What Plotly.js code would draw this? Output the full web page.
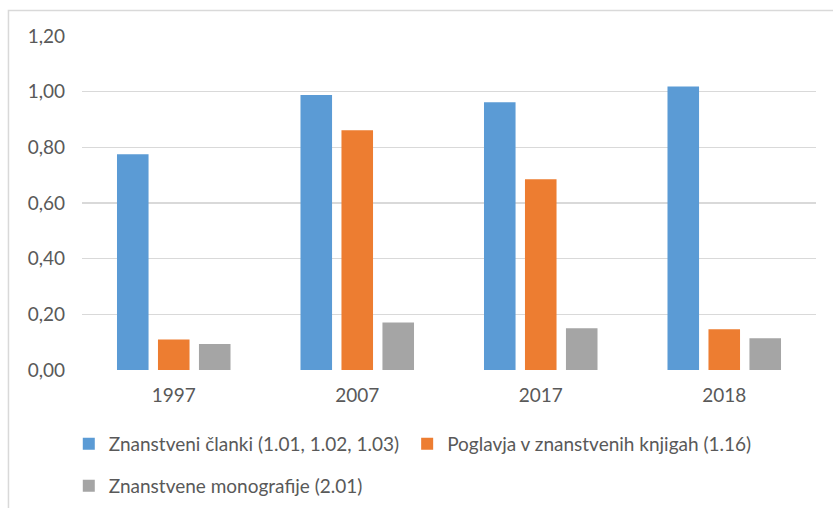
<!DOCTYPE html>
<html>
<head>
<meta charset="utf-8">
<script src="https://cdn.plot.ly/plotly-3.0.1.min.js"></script>
<style>html,body{margin:0;padding:0;background:#fff;}#chart{width:833px;height:508px;}</style>
</head>
<body>
<div id="chart"></div>
<script>
const categories = ['1997', '2007', '2017', '2018'];
const seriesNames = [
  'Znanstveni članki (1.01, 1.02, 1.03)',
  'Poglavja v znanstvenih knjigah (1.16)',
  'Znanstvene monografije (2.01)'
];
const clanki = [0.775, 0.988, 0.962, 1.019];
const poglavja = [0.110, 0.861, 0.685, 0.146];
const monografije = [0.093, 0.171, 0.150, 0.114];
const yTicks = [0, 0.2, 0.4, 0.6, 0.8, 1.0, 1.2];

const colors = ['#5B9BD5', '#ED7D31', '#A5A5A5'];
const FONT = 'Lato, "Open Sans", sans-serif';
const TXT = '#595959';
const FS = 19;
const legendIds = ['legend', 'legend2', 'legend3'];

const traces = [clanki, poglavja, monografije].map((vals, i) => ({
  type: 'bar',
  name: seriesNames[i],
  x: categories,
  y: vals,
  marker: {color: colors[i], line: {width: 0}},
  legend: legendIds[i],
  hoverinfo: 'x+y'
}));

function leg(x, y) {
  return {
    orientation: 'h', x: x, xanchor: 'left', y: y, yanchor: 'middle',
    font: {family: FONT, size: FS, color: TXT}, bgcolor: 'rgba(0,0,0,0)'
  };
}

const layout = {
  width: 833, height: 508,
  margin: {l: 82, r: 17, t: 36, b: 138, autoexpand: false},
  paper_bgcolor: '#fff', plot_bgcolor: '#fff',
  font: {family: FONT, size: FS, color: TXT},
  separators: ', ',
  barmode: 'group',
  bargap: 0.33,
  bargroupgap: 0.23,
  xaxis: {
    type: 'category', automargin: false,
    showgrid: false, showline: false, zeroline: false,
    ticks: '', ticklabelstandoff: 12,
    tickfont: {family: FONT, size: FS, color: TXT}
  },
  yaxis: {
    range: [0, 1.2], tickvals: yTicks, tickformat: '.2f', automargin: false,
    showgrid: true, gridcolor: '#d9d9d9', gridwidth: 1.5,
    zeroline: false, showline: false, ticks: '',
    ticklabelstandoff: 16,
    tickfont: {family: FONT, size: FS, color: TXT}
  },
  showlegend: true,
  legend: leg(-0.018, -0.2216),
  legend2: leg(0.443, -0.2216),
  legend3: leg(-0.018, -0.347),
  shapes: [{
    type: 'rect', xref: 'paper', yref: 'paper',
    x0: -0.1002, x1: 1.2, y0: -0.6, y1: 1.0763,
    line: {color: '#d9d9d9', width: 1.5}, layer: 'below'
  }]
};

Plotly.newPlot('chart', traces, layout, {displayModeBar: false, staticPlot: true});
</script>
</body>
</html>
